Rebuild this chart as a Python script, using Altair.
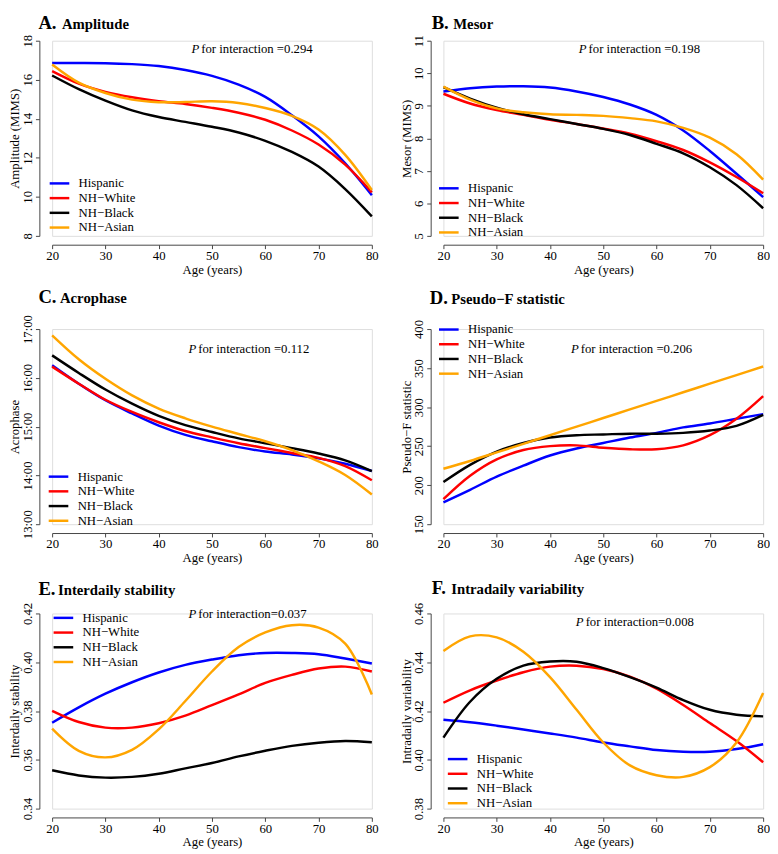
import altair as alt
import pandas as pd

FONT = "Liberation Serif"

AGES = [20, 25, 30, 35, 40, 45, 50, 55, 60, 65, 70, 75, 80]
GROUPS = ["Hispanic", "NH−White", "NH−Black", "NH−Asian"]
COLORS = ["#0000FF", "#FF0000", "#000000", "#FFA500"]
X_TICKS = [20, 30, 40, 50, 60, 70, 80]

# A. Amplitude
AMP_HISPANIC = [16.86, 16.86, 16.85, 16.80, 16.70, 16.50, 16.20, 15.75, 15.12, 14.18, 13.10, 11.72, 10.08]
AMP_WHITE = [16.44, 15.80, 15.38, 15.10, 14.90, 14.76, 14.56, 14.31, 13.95, 13.40, 12.68, 11.65, 10.23]
AMP_BLACK = [16.22, 15.52, 14.93, 14.43, 14.09, 13.84, 13.59, 13.30, 12.87, 12.30, 11.55, 10.40, 9.00]
AMP_ASIAN = [16.78, 15.85, 15.32, 14.98, 14.85, 14.86, 14.90, 14.81, 14.55, 14.15, 13.45, 12.15, 10.35]

# B. Mesor
MES_HISPANIC = [9.44, 9.54, 9.59, 9.60, 9.56, 9.44, 9.27, 9.04, 8.72, 8.24, 7.61, 6.91, 6.19]
MES_WHITE = [9.37, 9.07, 8.87, 8.72, 8.57, 8.44, 8.30, 8.14, 7.91, 7.64, 7.26, 6.81, 6.31]
MES_BLACK = [9.57, 9.22, 8.94, 8.74, 8.59, 8.44, 8.29, 8.10, 7.83, 7.54, 7.11, 6.56, 5.85]
MES_ASIAN = [9.59, 9.19, 8.92, 8.80, 8.74, 8.72, 8.69, 8.62, 8.52, 8.32, 8.02, 7.51, 6.73]

# C. Acrophase (hours)
ACR_HISPANIC = [16.26, 15.88, 15.54, 15.27, 15.02, 14.83, 14.70, 14.58, 14.49, 14.43, 14.35, 14.24, 14.09]
ACR_WHITE = [16.23, 15.88, 15.55, 15.30, 15.09, 14.91, 14.78, 14.66, 14.56, 14.46, 14.36, 14.19, 13.90]
ACR_BLACK = [16.46, 16.10, 15.76, 15.47, 15.22, 15.03, 14.89, 14.76, 14.66, 14.56, 14.45, 14.31, 14.09]
ACR_ASIAN = [16.87, 16.38, 15.98, 15.64, 15.37, 15.17, 15.00, 14.85, 14.70, 14.52, 14.29, 14.01, 13.61]

# D. Pseudo-F statistic
PSF_HISPANIC = [178, 194, 211, 225, 238, 247, 254, 261, 267, 274, 279, 285, 291]
PSF_WHITE = [182, 212, 233, 245, 250, 251, 248, 246, 246, 251, 264, 285, 314]
PSF_BLACK = [204, 226, 243, 254, 261, 264, 265, 266, 266, 267, 270, 276, 290]
PSF_ASIAN = [221, 231, 242, 253, 264, 275, 286, 297, 308, 319, 330, 341, 352]

# E. Interdaily stability
IS_HISPANIC = [0.3752, 0.3815, 0.3871, 0.3918, 0.3958, 0.3989, 0.4011, 0.4029, 0.4038, 0.4038, 0.4033, 0.4015, 0.3995]
IS_WHITE = [0.3801, 0.3755, 0.3732, 0.3732, 0.3750, 0.3781, 0.3824, 0.3868, 0.3915, 0.3948, 0.3974, 0.3982, 0.3962]
IS_BLACK = [0.3557, 0.3536, 0.3527, 0.3530, 0.3543, 0.3565, 0.3587, 0.3614, 0.3637, 0.3657, 0.3670, 0.3677, 0.3672]
IS_ASIAN = [0.3728, 0.3637, 0.3610, 0.3641, 0.3725, 0.3841, 0.3962, 0.4062, 0.4122, 0.4152, 0.4142, 0.4076, 0.3868]

# F. Intradaily variability
IV_HISPANIC = [0.4164, 0.4154, 0.4140, 0.4124, 0.4108, 0.4091, 0.4071, 0.4055, 0.4040, 0.4033, 0.4033, 0.4044, 0.4064]
IV_WHITE = [0.4234, 0.4285, 0.4325, 0.4359, 0.4382, 0.4386, 0.4372, 0.4341, 0.4292, 0.4225, 0.4151, 0.4077, 0.3990]
IV_BLACK = [0.4091, 0.4238, 0.4332, 0.4386, 0.4403, 0.4402, 0.4376, 0.4339, 0.4296, 0.4245, 0.4205, 0.4185, 0.4178]
IV_ASIAN = [0.4446, 0.4506, 0.4502, 0.4443, 0.4339, 0.4205, 0.4071, 0.3977, 0.3937, 0.3930, 0.3970, 0.4071, 0.4274]

W, H = 326, 199


def text_layer(txt, x, y, size, weight="normal", style="normal", baseline="middle"):
    return alt.Chart(pd.DataFrame({"t": [txt]})).mark_text(
        align="left", baseline=baseline, font=FONT, fontSize=size,
        fontWeight=weight, fontStyle=style, color="black"
    ).encode(x=alt.value(x), y=alt.value(y), text="t:N")


def panel(series, ydomain, yticks, ytitle, letter, word, head, p_pos, p_rest,
          leg, label_expr=None, fmt=None):
    rows = []
    for g, vals in zip(GROUPS, series):
        for a, v in zip(AGES, vals):
            rows.append({"age": a, "group": g, "value": v})
    df = pd.DataFrame(rows)

    yaxis_kw = dict(
        values=yticks, title=ytitle, grid=False, offset=13, tickSize=4,
        labelAngle=-90, labelAlign="center", labelBaseline="bottom",
        labelPadding=1, labelFont=FONT, labelFontSize=13, labelColor="black",
        titleFont=FONT, titleFontSize=13, titleFontWeight="normal",
        titleColor="black", titlePadding=0, domainColor="#444",
        tickColor="#444", labelFlush=False, labelOverlap=False,
    )
    if label_expr:
        yaxis_kw["labelExpr"] = label_expr
    if fmt:
        yaxis_kw["format"] = fmt
    yaxis = alt.Axis(**yaxis_kw)
    xaxis = alt.Axis(
        values=X_TICKS, title="Age (years)", grid=False, offset=9, tickSize=4,
        labelPadding=1, labelFont=FONT, labelFontSize=13, labelColor="black",
        titleFont=FONT, titleFontSize=13, titleFontWeight="normal",
        titleColor="black", titlePadding=1, domainColor="#444",
        tickColor="#444", labelFlush=False, labelOverlap=False,
    )

    lines = alt.Chart(df).mark_line(strokeWidth=2.5, interpolate="catmull-rom").encode(
        x=alt.X("age:Q", scale=alt.Scale(domain=[20, 80], nice=False, zero=False), axis=xaxis),
        y=alt.Y("value:Q", scale=alt.Scale(domain=ydomain, nice=False, zero=False), axis=yaxis),
        color=alt.Color(
            "group:N",
            scale=alt.Scale(domain=GROUPS, range=COLORS),
            legend=alt.Legend(
                title=None, orient="none", legendX=leg[0], legendY=leg[1],
                symbolType="M-2,0H2", symbolSize=100, symbolStrokeWidth=2.5,
                labelFont=FONT, labelFontSize=13, labelColor="black",
                labelOffset=13, rowPadding=1, padding=0,
            ),
        ),
    )
    layers = [
        lines,
        text_layer(letter, head[0] + 3, head[1], 19, weight="bold", baseline="alphabetic"),
        text_layer(word, head[2], head[1], 15, weight="bold", baseline="alphabetic"),
        text_layer("P", p_pos[0], p_pos[1], 13, style="italic"),
        text_layer(p_rest, p_pos[0] + 10, p_pos[1], 13),
    ]
    return alt.layer(*layers).properties(width=W, height=H).resolve_scale(color="independent")


A = panel([AMP_HISPANIC, AMP_WHITE, AMP_BLACK, AMP_ASIAN], [8, 18], [8, 10, 12, 14, 16, 18],
          "Amplitude (MIMS)", "A.", "Amplitude", (-17, -12, 10), (142, 9),
          "for interaction =0.294", (1, 139))
B = panel([MES_HISPANIC, MES_WHITE, MES_BLACK, MES_ASIAN], [5, 11], [5, 6, 7, 8, 9, 10, 11],
          "Mesor (MIMS)", "B.", "Mesor", (-15, -12, 10), (138, 9),
          "for interaction =0.198", (-1, 144))
C = panel([ACR_HISPANIC, ACR_WHITE, ACR_BLACK, ACR_ASIAN], [13, 17], [13, 14, 15, 16, 17],
          "Acrophase", "C.", "Acrophase", (-17, -27, 8), (139, 20),
          "for interaction =0.112", (0, 144), label_expr="datum.value + ':00'")
D = panel([PSF_HISPANIC, PSF_WHITE, PSF_BLACK, PSF_ASIAN], [150, 400], [150, 200, 250, 300, 350, 400],
          "Pseudo−F statistic", "D.", "Pseudo−F statistic", (-17, -26, 8), (130, 20),
          "for interaction =0.206", (-1, -6))
E = panel([IS_HISPANIC, IS_WHITE, IS_BLACK, IS_ASIAN], [0.34, 0.42], [0.34, 0.36, 0.38, 0.40, 0.42],
          "Interdaily stability", "E.", "Interdaily stability", (-17, -19, 6), (139, 1),
          "for interaction=0.037", (5, -2), fmt=".2f")
F = panel([IV_HISPANIC, IV_WHITE, IV_BLACK, IV_ASIAN], [0.38, 0.46], [0.38, 0.40, 0.42, 0.44, 0.46],
          "Intradaily variability", "F.", "Intradaily variability", (-15, -20, 8), (135, 9),
          "for interaction=0.008", (8, 142), fmt=".2f")

row1 = alt.hconcat(A, B, spacing=21)
row2 = alt.hconcat(C, D, spacing=21)
row3 = alt.hconcat(E, F, spacing=21)

chart = alt.vconcat(
    row1, alt.vconcat(row2, row3, spacing=13), spacing=10
).resolve_scale(color="independent").resolve_legend(color="independent").properties(
    padding={"left": 0, "top": -3, "right": 0, "bottom": 0}
).configure_view(stroke="transparent").configure(background="white")

chart.save("out.html", embed_options={"renderer": "svg", "actions": False})
